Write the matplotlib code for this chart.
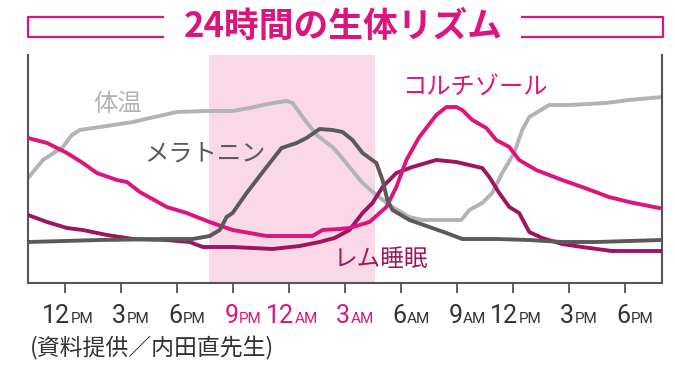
import matplotlib.pyplot as plt
from matplotlib.lines import Line2D

plt.rcParams['font.family'] = ['Noto Sans CJK JP', 'DejaVu Sans']

# hours from 12PM (day 1)
temp_h = [-1.98, -1.18, -0.11, 0.37, 0.80, 1.87, 3.64, 4.55, 5.99, 7.59, 8.98, 9.89, 11.12, 11.87,
          12.19, 12.73, 13.48, 14.33, 14.71, 15.24, 15.94, 16.68, 17.54, 18.45, 19.14, 21.23, 21.66,
          22.35, 22.89, 23.42, 24.06, 24.49, 24.87, 25.94, 27.01, 28.98, 30.21, 31.98]
temp_v = [105, 123, 136, 148, 153, 156, 161, 165, 171, 172, 172, 175, 180, 182,
          180, 166, 148, 136, 128, 116, 100, 88, 76, 66, 63, 63, 73,
          80, 90, 110, 130, 153, 166, 178, 178, 180, 183, 186]

mel_h = [-1.98, 1.87, 5.45, 6.84, 7.75, 8.29, 8.66, 8.98, 9.73, 10.80, 11.60, 12.41, 12.94, 13.64,
         14.33, 14.87, 15.40, 15.94, 16.68, 17.01, 17.27, 17.54, 18.45, 19.52, 20.43, 21.28,
         23.10, 24.87, 26.63, 28.45, 31.98]
mel_v = [41, 43, 44, 44, 47, 53, 66, 70, 90, 116, 135, 140, 145, 154,
         153, 151, 143, 130, 120, 103, 83, 73, 63, 56, 50, 44,
         44, 43, 41, 41, 43]

cort_h = [-1.98, -0.96, 0.11, 0.96, 1.71, 2.78, 3.32, 4.01, 5.45, 6.52, 7.75, 8.98, 10.80, 11.66,
          13.26, 13.80, 14.71, 15.24, 16.31, 17.22, 17.75, 18.29, 18.98, 19.89, 20.43, 20.96, 21.28,
          21.82, 22.57, 23.10, 23.80, 24.33, 25.24, 26.63, 27.70, 29.14, 30.21, 31.82]
cort_v = [145, 140, 130, 120, 110, 103, 101, 91, 76, 70, 61, 53, 47, 47,
          47, 53, 54, 55, 61, 76, 96, 123, 146, 168, 176, 176, 173,
          163, 155, 143, 136, 123, 113, 103, 96, 86, 81, 75]

rem_h = [-1.98, -0.96, 0.11, 0.96, 2.25, 3.64, 5.45, 6.68, 7.38, 8.98, 11.12, 12.57, 13.64, 14.44,
         15.24, 15.94, 16.47, 17.01, 17.75, 18.61, 19.89, 20.96, 22.35, 22.73, 23.26, 23.80, 24.33,
         24.87, 25.56, 26.63, 27.70, 29.30, 31.98]
rem_v = [68, 61, 55, 53, 48, 44, 43, 41, 36, 36, 34, 37, 41, 45,
         53, 70, 80, 96, 110, 116, 123, 121, 115, 106, 90, 76, 70,
         51, 45, 39, 36, 32, 32]

tick_hours = [0, 3, 6, 9, 12, 15, 18, 21, 24, 27, 30]
tick_nums = ['12', '3', '6', '9', '12', '3', '6', '9', '12', '3', '6']
tick_sfx = ['PM', 'PM', 'PM', 'PM', 'AM', 'AM', 'AM', 'AM', 'PM', 'PM', 'PM']
night = (7.7, 16.63)

MAG = '#dc147c'
REM = '#a0145f'
GRAY = '#b3b3b3'
DARK = '#5a5a5a'
AXC = '#555555'

fig = plt.figure(figsize=(6.75, 3.76), dpi=100)
ax = fig.add_axes([28 / 675, 1 - 283 / 376, (662 - 28) / 675, (283 - 55) / 376])

ax.axvspan(*night, color='#f9d8e7', lw=0, zorder=0)
ax.plot(temp_h, temp_v, color=GRAY, lw=2.8, solid_joinstyle='round', zorder=2)
ax.plot(rem_h, rem_v, color=REM, lw=2.8, solid_joinstyle='round', zorder=3)
ax.plot(cort_h, cort_v, color=MAG, lw=2.8, solid_joinstyle='round', zorder=4)
ax.plot(mel_h, mel_v, color=DARK, lw=2.8, solid_joinstyle='round', zorder=5)

ax.text(2.83, 179, '体温', color=GRAY, fontsize=17.5, ha='center', va='center')
ax.text(7.49, 129, 'メラトニン', color=DARK, fontsize=17.5, ha='center', va='center')
ax.text(21.98, 196, 'コルチゾール', color=MAG, fontsize=17.5, ha='center', va='center')
ax.text(16.95, 24, 'レム睡眠', color=REM, fontsize=17, ha='center', va='center')

ax.set_xlim(-1.98, 31.98)
ax.set_ylim(0, 228)
ax.set_yticks([])
ax.set_xticks(tick_hours)
ax.set_xticklabels([])
ax.tick_params(axis='x', length=7, width=1.3, color=AXC, direction='out')
ax.spines['top'].set_visible(False)
for s in ['left', 'right', 'bottom']:
    ax.spines[s].set_color(AXC)
    ax.spines[s].set_linewidth(1.5)

narrow = ['Roboto', 'DejaVu Sans']
for i, (h, n, s) in enumerate(zip(tick_hours, tick_nums, tick_sfx)):
    c = MAG if 3 <= i <= 5 else '#333333'
    ax.annotate(n, (h, 0), xycoords=('data', 'axes fraction'), xytext=(3.8, -29),
                textcoords='offset points', ha='right', va='baseline',
                fontsize=18, color=c, family=narrow)
    ax.annotate(s, (h, 0), xycoords=('data', 'axes fraction'), xytext=(4.3, -29),
                textcoords='offset points', ha='left', va='baseline',
                fontsize=11, color=c, family=narrow)

fig.text(343 / 675, 1 - 37 / 376, '24時間の生体リズム', color=MAG, fontsize=25,
         fontweight='bold', ha='center', va='baseline')

W, H = 675, 376
for xs in ([163, 28, 28, 163], [522, 663, 663, 522]):
    ys = [17, 17, 37, 37]
    fig.add_artist(Line2D([x / W for x in xs], [1 - y / H for y in ys],
                          transform=fig.transFigure, color=MAG, lw=1.6))

fig.text(30 / 675, 1 - 355 / 376, '(資料提供／内田直先生)', color='#333333',
         fontsize=16.5, ha='left', va='baseline')

fig.savefig('out.png', dpi=100)
